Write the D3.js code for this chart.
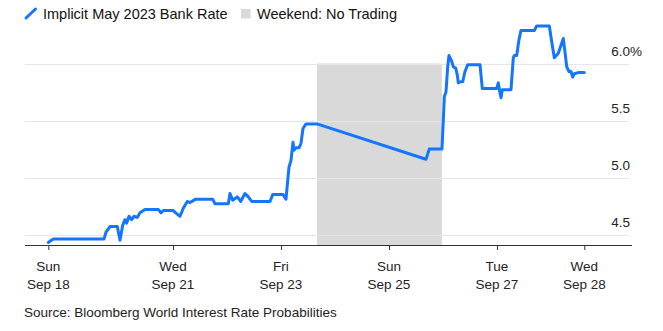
<!DOCTYPE html>
<html>
<head>
<meta charset="utf-8">
<script src="https://cdn.jsdelivr.net/npm/d3@7"></script>
<style>
  html, body { margin: 0; padding: 0; background: #fff; }
  svg { display: block; font-family: "Liberation Sans", Arial, Helvetica, sans-serif; }
</style>
</head>
<body>
<svg id="chart" width="663" height="331"></svg>
<script>
// Implied Bank Rate for the May 2023 meeting, sampled through the week.
const times = [
  "2022-09-18T16:35", "2022-09-18T18:48", "2022-09-19T17:20", "2022-09-19T18:13",
  "2022-09-19T20:00", "2022-09-19T23:15", "2022-09-20T00:27", "2022-09-20T01:38",
  "2022-09-20T02:40", "2022-09-20T03:25", "2022-09-20T04:27", "2022-09-20T05:38",
  "2022-09-20T06:40", "2022-09-20T08:08", "2022-09-20T09:20", "2022-09-20T11:33",
  "2022-09-20T17:28", "2022-09-20T18:40", "2022-09-20T19:41", "2022-09-21T00:08",
  "2022-09-21T01:12", "2022-09-21T03:07", "2022-09-21T04:35", "2022-09-21T06:21",
  "2022-09-21T07:33", "2022-09-21T10:05", "2022-09-21T17:38", "2022-09-21T18:40",
  "2022-09-22T00:35", "2022-09-22T01:20", "2022-09-22T02:32", "2022-09-22T04:35",
  "2022-09-22T06:05", "2022-09-22T08:00", "2022-09-22T09:28", "2022-09-22T10:59",
  "2022-09-22T19:07", "2022-09-22T20:19", "2022-09-23T00:53", "2022-09-23T02:13",
  "2022-09-23T03:33", "2022-09-23T04:27", "2022-09-23T05:20", "2022-09-23T05:47",
  "2022-09-23T06:40", "2022-09-23T08:00", "2022-09-23T08:53", "2022-09-23T09:47",
  "2022-09-23T11:07", "2022-09-23T16:00", "2022-09-25T16:27", "2022-09-25T17:55",
  "2022-09-25T23:33", "2022-09-26T00:08", "2022-09-26T00:36", "2022-09-26T01:20",
  "2022-09-26T02:05", "2022-09-26T02:40", "2022-09-26T03:52", "2022-09-26T04:35",
  "2022-09-26T05:39", "2022-09-26T06:21", "2022-09-26T06:48", "2022-09-26T07:52",
  "2022-09-26T08:45", "2022-09-26T09:47", "2022-09-26T11:00", "2022-09-26T16:27",
  "2022-09-26T17:28", "2022-09-26T23:52", "2022-09-27T00:35", "2022-09-27T01:20",
  "2022-09-27T01:47", "2022-09-27T02:22", "2022-09-27T04:19", "2022-09-27T06:13",
  "2022-09-27T07:15", "2022-09-27T07:41", "2022-09-27T08:45", "2022-09-27T09:47",
  "2022-09-27T10:40", "2022-09-27T16:36", "2022-09-27T17:39", "2022-09-27T23:15",
  "2022-09-28T00:19", "2022-09-28T01:28", "2022-09-28T03:15", "2022-09-28T05:28",
  "2022-09-28T06:13", "2022-09-28T07:00", "2022-09-28T08:00", "2022-09-28T08:53",
  "2022-09-28T09:38", "2022-09-28T10:21", "2022-09-28T12:08", "2022-09-28T14:48"
];
const rates = [
  4.43, 4.46, 4.46, 4.52,
  4.57, 4.57, 4.45, 4.58,
  4.63, 4.60, 4.66, 4.63,
  4.66, 4.65, 4.69, 4.72,
  4.72, 4.69, 4.71, 4.71,
  4.69, 4.66, 4.73, 4.79,
  4.78, 4.81, 4.81, 4.77,
  4.77, 4.86, 4.80, 4.83,
  4.79, 4.86, 4.83, 4.79,
  4.79, 4.85, 4.85, 4.81,
  5.09, 5.15, 5.31, 5.24,
  5.26, 5.26, 5.30, 5.43,
  5.47, 5.47, 5.16, 5.25,
  5.25, 5.50, 5.71, 5.75,
  5.97, 6.07, 6.02, 5.97,
  5.96, 5.90, 5.83, 5.84,
  5.84, 5.93, 5.99, 5.99,
  5.78, 5.78, 5.83, 5.74,
  5.70, 5.77, 5.77, 5.77,
  6.05, 6.07, 6.07, 6.21,
  6.29, 6.29, 6.33, 6.33,
  6.19, 6.05, 6.09, 6.22,
  6.10, 5.97, 5.93, 5.93,
  5.88, 5.91, 5.92, 5.92
];

// Market closed between these two moments.
const weekend = ["2022-09-23T16:00", "2022-09-25T23:30"];

// Axis ticks: first and last samples plus midnight of selected days.
const xTickTimes = [
  "2022-09-18T16:35", "2022-09-21T00:00", "2022-09-23T00:00",
  "2022-09-25T00:00", "2022-09-27T00:00", "2022-09-28T14:48"
];
const yTicks = [4.5, 5.0, 5.5, 6.0];

const seriesLabel = "Implicit May 2023 Bank Rate";
const weekendLabel = "Weekend: No Trading";
const sourceLabel = "Source: Bloomberg World Interest Rate Probabilities";

const parse = d3.timeParse("%Y-%m-%dT%H:%M");
const data = times.map((t, i) => ({ date: parse(t), value: rates[i] }));

const svg = d3.select("#chart");
const lineColor = "#1476ff";
const bandColor = "#d9d9d9";

const plotLeft = 25, plotRight = 632, axisY = 245;

const x = d3.scaleTime()
  .domain(d3.extent(data, d => d.date))
  .range([48.3, 584.3]);

const y = d3.scaleLinear()
  .domain([4.5, 6.0])
  .range([234.5, 63.5]);

// Weekend shading
svg.append("rect")
  .attr("x", x(parse(weekend[0])))
  .attr("y", y(6.0))
  .attr("width", x(parse(weekend[1])) - x(parse(weekend[0])))
  .attr("height", axisY - y(6.0))
  .attr("fill", bandColor);

// Horizontal gridlines
svg.append("g")
  .selectAll("line")
  .data(yTicks)
  .join("line")
  .attr("x1", plotLeft)
  .attr("x2", 629)
  .attr("y1", d => Math.round(y(d)) + 0.5)
  .attr("y2", d => Math.round(y(d)) + 0.5)
  .attr("stroke", "#e6e6e6")
  .attr("stroke-width", 1);

// Y labels, right side above each gridline
const yLab = svg.append("g")
  .attr("font-size", 13.5)
  .attr("fill", "#222");
yLab.selectAll("text")
  .data(yTicks)
  .join("text")
  .attr("x", 630)
  .attr("y", d => y(d) - 8)
  .attr("text-anchor", "end")
  .text(d => d3.format(".1f")(d));
yLab.append("text")
  .attr("x", 630)
  .attr("y", y(d3.max(yTicks)) - 8)
  .text("%");

// Rate line
const line = d3.line()
  .x(d => x(d.date))
  .y(d => y(d.value));

svg.append("path")
  .datum(data)
  .attr("d", line)
  .attr("fill", "none")
  .attr("stroke", lineColor)
  .attr("stroke-width", 3)
  .attr("stroke-linejoin", "round")
  .attr("stroke-linecap", "round");

// X axis
const xAxis = d3.axisBottom(x)
  .tickValues(xTickTimes.map(parse))
  .tickSize(5)
  .tickFormat("");

const gx = svg.append("g")
  .attr("transform", `translate(0,${axisY})`)
  .call(xAxis);
gx.select(".domain").remove();
gx.selectAll(".tick line").attr("stroke", "#333");
gx.append("line")
  .attr("x1", plotLeft).attr("x2", plotRight)
  .attr("y1", 0.5).attr("y2", 0.5)
  .attr("stroke", "#333");

const fmtDay = d3.timeFormat("%a");
const fmtDate = d3.timeFormat("%b %-d");
const xLab = svg.append("g")
  .attr("font-size", 13.5)
  .attr("fill", "#222")
  .attr("text-anchor", "middle");
xTickTimes.map(parse).forEach(d => {
  xLab.append("text").attr("x", x(d)).attr("y", 271).text(fmtDay(d));
  xLab.append("text").attr("x", x(d)).attr("y", 289).text(fmtDate(d));
});

// Legend
const legend = svg.append("g").attr("font-size", 14.5).attr("fill", "#111");
legend.append("line")
  .attr("x1", 26).attr("y1", 18)
  .attr("x2", 35.5).attr("y2", 9)
  .attr("stroke", lineColor)
  .attr("stroke-width", 3)
  .attr("stroke-linecap", "round");
legend.append("text").attr("x", 43).attr("y", 19).text(seriesLabel);
legend.append("rect")
  .attr("x", 241).attr("y", 9)
  .attr("width", 9.5).attr("height", 9.5)
  .attr("fill", bandColor);
legend.append("text").attr("x", 257).attr("y", 19).text(weekendLabel);

// Source note
svg.append("text")
  .attr("x", 24)
  .attr("y", 317)
  .attr("font-size", 13.5)
  .attr("fill", "#222")
  .text(sourceLabel);
</script>
</body>
</html>
